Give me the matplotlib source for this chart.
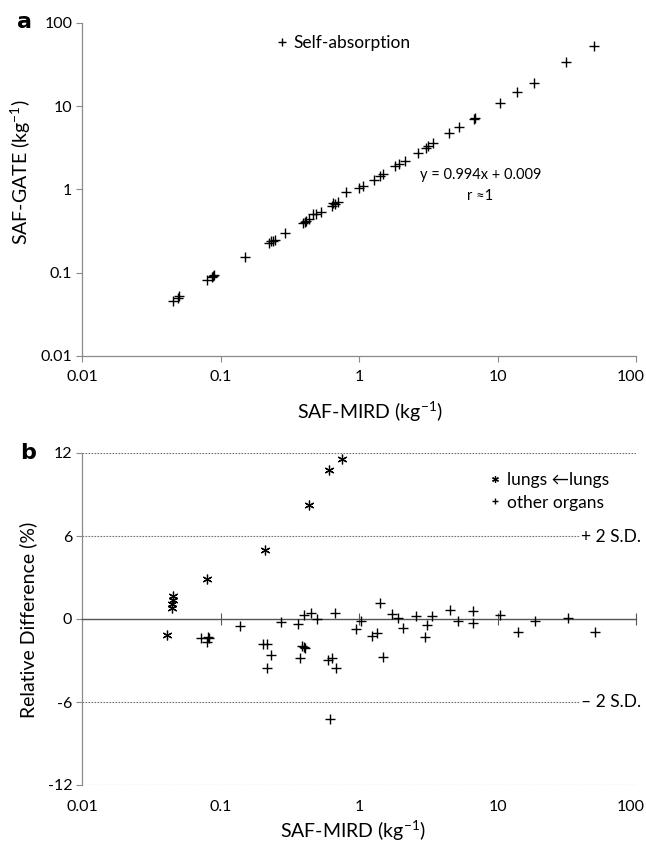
import matplotlib
matplotlib.use('Agg')
import matplotlib.pyplot as plt
import matplotlib.transforms as mtransforms

plt.rcParams['font.family'] = ['Lato', 'DejaVu Sans']
plt.rcParams['mathtext.fontset'] = 'custom'
plt.rcParams['mathtext.rm'] = 'Lato'
plt.rcParams['mathtext.it'] = 'Lato:italic'

# Panel a: self-absorption SAF, MIRD vs GATE (kg-1)
mird_self = [0.0452, 0.0496, 0.0503, 0.0803, 0.0868, 0.0887, 0.0902, 0.150,
             0.225, 0.230, 0.238, 0.247, 0.292, 0.392, 0.406, 0.416, 0.435,
             0.465, 0.488, 0.529, 0.635, 0.654, 0.672, 0.709, 0.80, 1.00, 1.07,
             1.28, 1.41, 1.49, 1.83, 1.95, 2.15, 2.65, 3.05, 3.15, 3.45, 4.49,
             5.27, 6.78, 6.90, 10.5, 13.9, 18.4, 31.4, 50.0]
gate_self = [0.0456, 0.0499, 0.0522, 0.0806, 0.0883, 0.0908, 0.0926, 0.153,
             0.228, 0.238, 0.243, 0.250, 0.300, 0.396, 0.408, 0.420, 0.440,
             0.512, 0.500, 0.535, 0.625, 0.690, 0.660, 0.710, 0.92, 1.04, 1.10,
             1.31, 1.44, 1.54, 1.89, 2.00, 2.20, 2.72, 3.17, 3.30, 3.60, 4.73,
             5.54, 7.06, 7.25, 11.0, 14.8, 19.1, 33.6, 52.2]

# Panel b: relative difference (%)
lung_mird = [0.0411, 0.0448, 0.0450, 0.0452, 0.0455, 0.0803, 0.210, 0.435, 0.604, 0.757]
lung_diff = [-1.15, 0.77, 1.05, 1.35, 1.68, 2.91, 4.97, 8.27, 10.74, 11.59]

other_mird = [0.0723, 0.081, 0.080, 0.082, 0.138, 0.204, 0.216, 0.231, 0.216,
              0.272, 0.36, 0.376, 0.40, 0.39, 0.40, 0.41, 0.45, 0.494, 0.60,
              0.64, 0.62, 0.67, 0.68, 0.959, 1.03, 1.24, 1.34, 1.42, 1.48, 1.73,
              1.92, 2.09, 2.57, 2.99, 3.09, 3.38, 4.54, 5.21, 6.69, 6.69, 10.4,
              14.0, 18.5, 32.1, 50.6]
other_diff = [-1.35, -1.27, -1.64, -1.39, -0.5, -1.8, -1.8, -2.6, -3.56, -0.19,
              -0.38, -2.79, 0.29, -1.95, -2.0, -2.11, 0.41, 0.0, -2.96, -2.79,
              -7.23, 0.46, -3.56, -0.72, -0.17, -1.25, -1.01, 1.13, -2.75, 0.39,
              0.05, -0.67, 0.19, -1.3, -0.46, 0.22, 0.65, -0.14, 0.58, -0.31,
              0.29, -0.92, -0.14, 0.05, -0.92]

log_ticks = [0.01, 0.1, 1, 10, 100]
log_labels = ['0.01', '0.1', '1', '10', '100']
diff_ticks = [-12, -6, 0, 6, 12]
diff_labels = ['-12', '-6', '0', '6', '12']

W, H = 646, 848
fig = plt.figure(figsize=(W / 100, H / 100), dpi=100)


def fx(x):
    return x / W


def fy(y):
    return 1 - y / H


def nudge_last_label(axis):
    # keep the "100" label inside the picture
    lbl = axis.get_ticklabels()[-1]
    lbl.set_transform(lbl.get_transform() +
                      mtransforms.ScaledTranslation(-5 / 100, 0, fig.dpi_scale_trans))


spine_col = '#8a8a8a'
asterisk = (6, 2, 0)

# ---- panel a ----
ax_a = fig.add_axes([fx(82), fy(356), fx(636) - fx(82), fy(22.7) - fy(356)])
ax_a.set_xscale('log')
ax_a.set_yscale('log')
self_pts, = ax_a.plot(mird_self, gate_self, ls='none', marker='+', ms=6.5,
                      mew=1.0, color='black')
ax_a.set_xlim(0.01, 100)
ax_a.set_ylim(0.01, 100)
ax_a.set_xticks(log_ticks, log_labels)
ax_a.set_yticks(log_ticks, log_labels)
ax_a.minorticks_off()
for s in ['top', 'right']:
    ax_a.spines[s].set_visible(False)
for s in ['left', 'bottom']:
    ax_a.spines[s].set_color(spine_col)
    ax_a.spines[s].set_linewidth(0.9)
ax_a.tick_params(axis='both', direction='out', length=4, width=0.8,
                 color=spine_col, labelsize=11.5, pad=3)
ax_a.tick_params(axis='x', pad=6)
nudge_last_label(ax_a.xaxis)

ax_a.legend([self_pts], ['Self-absorption'], loc='center left', frameon=False,
            bbox_to_anchor=(fx(276), fy(42.7)), bbox_transform=fig.transFigure,
            handlelength=0.7, handletextpad=0.3, fontsize=12.5, markerscale=0.8,
            borderpad=0, borderaxespad=0)

fig.text(fx(481), fy(175), 'y = 0.994x + 0.009', ha='center', va='center', fontsize=10.5)
fig.text(fx(480), fy(196), 'r \u22481', ha='center', va='center', fontsize=10.5)

fig.text(fx(21), fy(172), 'SAF-GATE (kg$^{\u22121}$)', rotation=90, ha='center',
         va='center', fontsize=14)
fig.text(fx(370), fy(412), 'SAF-MIRD (kg$^{\\mathrm{-1}}$)', ha='center',
         va='center', fontsize=14)
fig.text(fx(25), fy(22), 'a', ha='center', va='center', fontsize=16, fontweight='bold',
         family=['DejaVu Sans'])

# ---- panel b ----
ax_b = fig.add_axes([fx(82), fy(785), fx(636) - fx(82), fy(453) - fy(785)])
ax_b.set_xscale('log')
ax_b.set_xlim(0.01, 100)
ax_b.set_ylim(-12, 12)

for yv in [-12, -6, 6, 12]:
    ax_b.axhline(yv, color='#707070', lw=0.8, ls=(0, (1.5, 1.2)), zorder=1)

lung_pts, = ax_b.plot(lung_mird, lung_diff, ls='none', marker=asterisk, ms=7,
                      mew=0.9, color='black', zorder=3)
other_pts, = ax_b.plot(other_mird, other_diff, ls='none', marker='+', ms=7,
                       mew=1.0, color='black', zorder=3)

ax_b.set_yticks(diff_ticks, diff_labels)
ax_b.minorticks_off()
ax_b.spines['top'].set_visible(False)
ax_b.spines['right'].set_visible(False)
ax_b.spines['left'].set_color(spine_col)
ax_b.spines['left'].set_linewidth(0.9)
# x axis drawn along the zero line, labels at the bottom
ax_b.spines['bottom'].set_position(('data', 0))
ax_b.spines['bottom'].set_color('#555555')
ax_b.spines['bottom'].set_linewidth(1.0)
ax_b.set_xticks(log_ticks[1:])
ax_b.tick_params(axis='x', direction='inout', length=8, width=0.8,
                 color='#555555', labelbottom=False)
ax_b.tick_params(axis='y', direction='out', length=4, width=0.8,
                 color=spine_col, labelsize=11.5, pad=3)

sec = ax_b.secondary_xaxis(0.0)
sec.set_xticks(log_ticks, log_labels)
sec.minorticks_off()
sec.tick_params(length=0, labelsize=11.5, pad=11)
sec.spines['bottom'].set_visible(False)
nudge_last_label(sec.xaxis)

ax_b.legend([lung_pts, other_pts], ['lungs \u2190lungs', 'other organs'],
            loc='center left', frameon=False,
            bbox_to_anchor=(fx(489), fy(491.5)), bbox_transform=fig.transFigure,
            handlelength=0.7, handletextpad=0.35, fontsize=12.5, markerscale=0.7,
            labelspacing=0.35, borderpad=0, borderaxespad=0)

txt_box = dict(fc='white', ec='none', pad=0.5)
fig.text(fx(641), fy(537), '+ 2 S.D.', ha='right', va='center', fontsize=12.5, bbox=txt_box)
fig.text(fx(641), fy(702), '\u2013 2 S.D.', ha='right', va='center', fontsize=12.5, bbox=txt_box)

fig.text(fx(28), fy(620), 'Relative Difference (%)', rotation=90, ha='center',
         va='center', fontsize=14)
fig.text(fx(353), fy(831), 'SAF-MIRD (kg$^{\\mathrm{-1}}$)', ha='center',
         va='center', fontsize=14)
fig.text(fx(28), fy(453), 'b', ha='center', va='center', fontsize=16, fontweight='bold',
         family=['DejaVu Sans'])

fig.savefig('out.png', dpi=100)
